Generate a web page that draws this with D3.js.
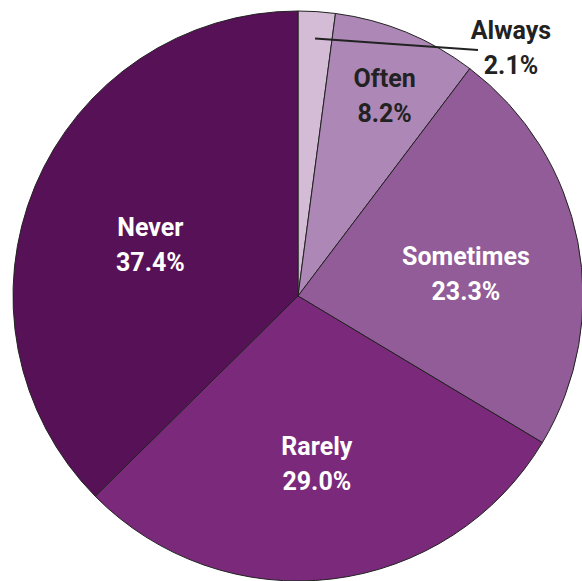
<!DOCTYPE html>
<html>
<head>
<meta charset="utf-8">
<script src="https://cdn.jsdelivr.net/npm/d3@7"></script>
<style>
  body { margin: 0; background: #fff; }
  svg { display: block; }
  text { font-family: Roboto, "Liberation Sans", sans-serif; font-weight: 700; }
</style>
</head>
<body>
<div id="chart"></div>
<script>
const categories = ['Always', 'Often', 'Sometimes', 'Rarely', 'Never'];
const shares = [2.1, 8.2, 23.3, 29.0, 37.4];
const colors = ['#d4bcd6', '#ad88b6', '#915c98', '#7b297b', '#571257'];

const svgWidth = 582;
const svgHeight = 581;
const cx = 298, cy = 296, radius = 285;

const data = categories.map((c, i) => ({ name: c, value: shares[i], color: colors[i] }));

const svg = d3.select('#chart')
    .append('svg')
    .attr('width', svgWidth)
    .attr('height', svgHeight);

const g = svg.append('g').attr('transform', `translate(${cx}, ${cy})`);

const pie = d3.pie().sort(null).value(d => d.value);
const arc = d3.arc().innerRadius(0).outerRadius(radius);
const arcs = pie(data);

g.selectAll('path')
    .data(arcs)
    .enter()
    .append('path')
    .attr('d', arc)
    .attr('fill', d => d.data.color)
    .attr('stroke', '#222')
    .attr('stroke-width', 1);

// distance of each label from the centre (Always sits outside, see below)
const labelR = [258, 228, 171, 158, 160];

arcs.forEach((d, i) => {
    const mid = (d.startAngle + d.endAngle) / 2;
    let x, y, fill;
    if (d.data.value < 5) {
        // leader line from inside the thin slice out to the label
        const inner = d3.arc().innerRadius(labelR[i]).outerRadius(labelR[i]).centroid(d);
        const lineEnd = [180, -246];
        g.append('line')
            .attr('x1', inner[0]).attr('y1', inner[1])
            .attr('x2', lineEnd[0]).attr('y2', lineEnd[1])
            .attr('stroke', '#222')
            .attr('stroke-width', 2);
        x = 213; y = -259; fill = '#222';
    } else {
        x = Math.sin(mid) * labelR[i];
        y = -Math.cos(mid) * labelR[i];
        fill = i === 1 ? '#222' : '#fff';
    }
    const t = g.append('text')
        .attr('text-anchor', 'middle')
        .attr('fill', fill)
        .style('font-size', '25px');
    t.append('tspan').attr('x', x).attr('y', y + 2).text(d.data.name);
    t.append('tspan').attr('x', x).attr('y', y + 37).text(d.data.value.toFixed(1) + '%');
});
</script>
</body>
</html>
